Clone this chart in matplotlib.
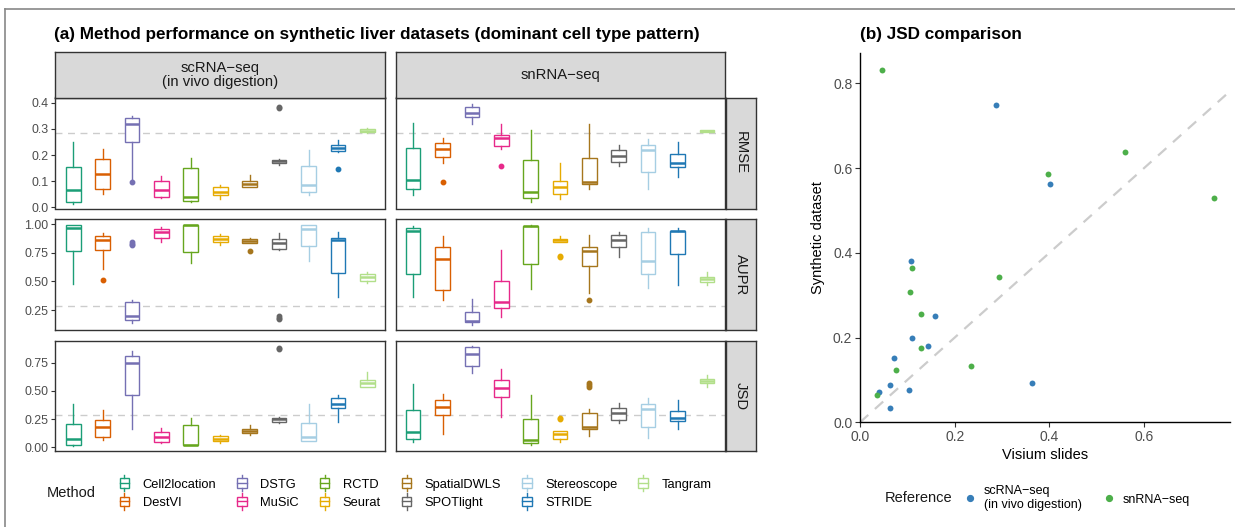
import matplotlib
matplotlib.use("Agg")
import matplotlib.pyplot as plt
from matplotlib.lines import Line2D
from matplotlib.patches import Patch, Rectangle
from matplotlib.legend_handler import HandlerBase

plt.rcParams['font.family'] = ['Liberation Sans', 'DejaVu Sans']

methods = ["Cell2location", "DestVI", "DSTG", "MuSiC", "RCTD", "Seurat",
           "SpatialDWLS", "SPOTlight", "Stereoscope", "STRIDE", "Tangram"]
method_colors = ["#1B9E77", "#D95F02", "#7570B3", "#E7298A", "#66A61E", "#E6AB02",
                 "#A6761D", "#666666", "#A6CEE3", "#1F78B4", "#B2DF8A"]
references = ["scRNA\u2212seq\n(in vivo digestion)", "snRNA\u2212seq"]
metrics = ["RMSE", "AUPR", "JSD"]

# five-number summaries per method: (low whisker, q1, median, q3, high whisker)
rmse_sc = [(0.014, 0.022, 0.066, 0.155, 0.250), (0.050, 0.069, 0.127, 0.186, 0.224),
           (0.110, 0.250, 0.320, 0.341, 0.349), (0.035, 0.041, 0.065, 0.102, 0.122),
           (0.022, 0.025, 0.041, 0.150, 0.190), (0.033, 0.046, 0.059, 0.078, 0.087),
           (0.080, 0.080, 0.088, 0.100, 0.125), (0.162, 0.168, 0.178, 0.183, 0.185),
           (0.046, 0.060, 0.084, 0.160, 0.220), (0.211, 0.214, 0.228, 0.237, 0.257),
           (0.284, 0.287, 0.293, 0.299, 0.303)]
rmse_sn = [(0.048, 0.069, 0.104, 0.227, 0.324), (0.168, 0.191, 0.225, 0.247, 0.266),
           (0.317, 0.344, 0.362, 0.383, 0.397), (0.224, 0.234, 0.264, 0.276, 0.320),
           (0.020, 0.036, 0.060, 0.183, 0.297), (0.033, 0.052, 0.080, 0.100, 0.169),
           (0.069, 0.089, 0.099, 0.190, 0.320), (0.158, 0.172, 0.196, 0.220, 0.238),
           (0.069, 0.135, 0.220, 0.237, 0.260), (0.116, 0.155, 0.169, 0.205, 0.251),
           (0.289, 0.290, 0.293, 0.296, 0.297)]
aupr_sc = [(0.474, 0.767, 0.962, 0.991, 0.994), (0.608, 0.770, 0.860, 0.892, 0.919),
           (0.140, 0.163, 0.198, 0.320, 0.337), (0.840, 0.875, 0.930, 0.959, 0.971),
           (0.663, 0.756, 0.988, 0.991, 0.994), (0.814, 0.840, 0.869, 0.898, 0.916),
           (0.837, 0.837, 0.852, 0.869, 0.875), (0.776, 0.785, 0.834, 0.869, 0.924),
           (0.680, 0.808, 0.959, 0.991, 0.994), (0.360, 0.573, 0.860, 0.878, 0.930),
           (0.483, 0.506, 0.538, 0.567, 0.584)]
aupr_sn = [(0.366, 0.567, 0.942, 0.965, 0.980), (0.337, 0.427, 0.695, 0.802, 0.895),
           (0.119, 0.142, 0.151, 0.235, 0.343), (0.186, 0.264, 0.317, 0.506, 0.773),
           (0.430, 0.648, 0.985, 0.985, 0.988), (0.843, 0.843, 0.858, 0.869, 0.895),
           (0.395, 0.634, 0.767, 0.802, 0.901), (0.712, 0.799, 0.860, 0.904, 0.930),
           (0.439, 0.564, 0.680, 0.930, 0.968), (0.465, 0.741, 0.936, 0.942, 0.965),
           (0.468, 0.491, 0.517, 0.538, 0.581)]
jsd_sc = [(0.009, 0.018, 0.074, 0.210, 0.381), (0.068, 0.089, 0.177, 0.242, 0.328),
          (0.165, 0.466, 0.747, 0.809, 0.853), (0.041, 0.050, 0.092, 0.133, 0.174),
          (0.018, 0.018, 0.024, 0.198, 0.260), (0.041, 0.059, 0.077, 0.100, 0.112),
          (0.106, 0.127, 0.148, 0.165, 0.200), (0.213, 0.224, 0.248, 0.263, 0.269),
          (0.056, 0.056, 0.089, 0.213, 0.384), (0.227, 0.351, 0.384, 0.437, 0.466),
          (0.531, 0.537, 0.567, 0.593, 0.664)]
jsd_sn = [(0.050, 0.077, 0.133, 0.328, 0.558), (0.121, 0.286, 0.360, 0.422, 0.469),
          (0.661, 0.720, 0.830, 0.886, 0.900), (0.266, 0.443, 0.528, 0.593, 0.694),
          (0.021, 0.035, 0.065, 0.248, 0.461), (0.047, 0.074, 0.115, 0.142, 0.142),
          (0.097, 0.165, 0.183, 0.304, 0.337), (0.213, 0.245, 0.307, 0.348, 0.396),
          (0.080, 0.180, 0.342, 0.384, 0.440), (0.165, 0.236, 0.260, 0.325, 0.419),
          (0.531, 0.570, 0.588, 0.605, 0.638)]

# outliers, keyed by method index
rmse_sc_out = {2: [0.098], 7: [0.378, 0.385], 9: [0.145]}
rmse_sn_out = {1: [0.098], 3: [0.159]}
aupr_sc_out = {1: [0.509], 2: [0.815, 0.828, 0.840], 6: [0.762], 7: [0.168, 0.180, 0.195]}
aupr_sn_out = {5: [0.715, 0.722], 6: [0.337]}
jsd_sc_out = {7: [0.868, 0.876]}
jsd_sn_out = {5: [0.255, 0.260], 6: [0.530, 0.548, 0.567]}

# panel (b): JSD on Visium slides vs synthetic data
sc_visium = [0.287, 0.402, 0.108, 0.158, 0.109, 0.143, 0.071, 0.364, 0.064, 0.103, 0.041, 0.064]
sc_synth = [0.749, 0.563, 0.381, 0.252, 0.200, 0.180, 0.152, 0.092, 0.089, 0.077, 0.071, 0.033]
sn_visium = [0.046, 0.398, 0.559, 0.748, 0.110, 0.106, 0.128, 0.294, 0.128, 0.076, 0.235, 0.035]
sn_synth = [0.832, 0.587, 0.639, 0.530, 0.363, 0.308, 0.256, 0.344, 0.176, 0.123, 0.133, 0.064]

W, H = 1235, 527
TICK_GREY = "#4D4D4D"
STRIP_FILL = "#D9D9D9"
DARK = "#333333"


def rect(x0, y0, x1, y1):
    return [x0 / W, 1 - y1 / H, (x1 - x0) / W, (y1 - y0) / H]


class BoxKey(HandlerBase):
    """Small boxplot glyph used as legend key."""

    def create_artists(self, legend, orig_handle, xdescent, ydescent,
                       width, height, fontsize, trans):
        c = orig_handle.get_edgecolor()
        cx = -xdescent + width / 2
        cy = -ydescent + height / 2
        bw, bh = width * 0.75, height * 0.8
        box = Rectangle((cx - bw / 2, cy - bh / 2), bw, bh, fc="white", ec=c,
                        lw=1.0, transform=trans)
        med = Line2D([cx - bw / 2, cx + bw / 2], [cy, cy], color=c, lw=1.0, transform=trans)
        w1 = Line2D([cx, cx], [cy + bh / 2, cy + bh / 2 + height * 0.25], color=c, lw=1.0,
                    transform=trans)
        w2 = Line2D([cx, cx], [cy - bh / 2, cy - bh / 2 - height * 0.25], color=c, lw=1.0,
                    transform=trans)
        return [box, med, w1, w2]


fig = plt.figure(figsize=(W / 100, H / 100), dpi=100)

# outer frame lines
fig.add_artist(Line2D([5 / W, 1], [1 - 9 / H, 1 - 9 / H], color="#888888", lw=1.2))
fig.add_artist(Line2D([5 / W, 5 / W], [0, 1 - 9 / H], color="#888888", lw=1.2))

# ---------- panel (a) ----------
fig.text(54 / W, 1 - 35 / H,
         "(a) Method performance on synthetic liver datasets (dominant cell type pattern)",
         fontsize=12.35, fontweight="bold", va="center", ha="left")

col_x = [(55.5, 385), (395.5, 724.5)]
row_y = [(97.5, 208.5), (219, 330), (341, 451)]
ylims = [(-0.004, 0.42), (0.076, 1.044), (-0.033, 0.942)]
yticks = [[0.0, 0.1, 0.2, 0.3, 0.4], [0.25, 0.50, 0.75, 1.00], [0.00, 0.25, 0.50, 0.75]]
ylabels = [["0.0", "0.1", "0.2", "0.3", "0.4"], ["0.25", "0.50", "0.75", "1.00"],
           ["0.00", "0.25", "0.50", "0.75"]]
panel_stats = [[rmse_sc, rmse_sn], [aupr_sc, aupr_sn], [jsd_sc, jsd_sn]]
panel_out = [[rmse_sc_out, rmse_sn_out], [aupr_sc_out, aupr_sn_out], [jsd_sc_out, jsd_sn_out]]

for r in range(3):
    for c in range(2):
        ax = fig.add_axes(rect(col_x[c][0], row_y[r][0], col_x[c][1], row_y[r][1]))
        stats = panel_stats[r][c]
        outs = panel_out[r][c]
        for i, s in enumerate(stats):
            col = method_colors[i]
            st = dict(whislo=s[0], q1=s[1], med=s[2], q3=s[3], whishi=s[4],
                      fliers=outs.get(i, []))
            ax.bxp([st], positions=[i + 1], widths=0.5, patch_artist=True,
                   showcaps=False,
                   boxprops=dict(facecolor="white", edgecolor=col, lw=1.0),
                   medianprops=dict(color=col, lw=1.8),
                   whiskerprops=dict(color=col, lw=1.0),
                   flierprops=dict(marker="o", markerfacecolor=col, markeredgecolor=col,
                                   markersize=3.2, linestyle="none"))
        ax.axhline(0.283, color="#CCCCCC", lw=1.0, ls=(0, (5, 4)), zorder=0)
        ax.set_xlim(0.4, 11.6)
        ax.set_ylim(*ylims[r])
        ax.set_xticks([])
        for sp in ax.spines.values():
            sp.set_color(DARK)
            sp.set_linewidth(1.0)
        if c == 0:
            ax.set_yticks(yticks[r])
            ax.set_yticklabels(ylabels[r])
            ax.tick_params(axis="y", length=3, width=0.8, color=DARK,
                           labelcolor=TICK_GREY, labelsize=8.9, pad=2)
        else:
            ax.set_yticks([])

# column strips
for c in range(2):
    sax = fig.add_axes(rect(col_x[c][0], 52, col_x[c][1], 97.5))
    sax.set_facecolor(STRIP_FILL)
    sax.set_xticks([])
    sax.set_yticks([])
    for sp in sax.spines.values():
        sp.set_color(DARK)
        sp.set_linewidth(1.0)
    sax.text(0.5, 0.5, references[c], ha="center", va="center", fontsize=10.7,
             color="#1A1A1A", transform=sax.transAxes, linespacing=1.0)

# row strips
for r in range(3):
    sax = fig.add_axes(rect(726, row_y[r][0], 756, row_y[r][1]))
    sax.set_facecolor(STRIP_FILL)
    sax.set_xticks([])
    sax.set_yticks([])
    for sp in sax.spines.values():
        sp.set_color(DARK)
        sp.set_linewidth(1.0)
    sax.text(0.5, 0.5, metrics[r], ha="center", va="center", fontsize=10.7,
             color="#1A1A1A", rotation=270, transform=sax.transAxes)

# method legend
fig.text(47 / W, 1 - 493 / H, "Method", fontsize=10.5, va="center", ha="left", color="#1A1A1A")
handles = [Patch(edgecolor=col, facecolor="white") for col in method_colors]
fig.legend(handles, methods, handler_map={Patch: BoxKey()}, ncol=6,
           loc="center left", bbox_to_anchor=(118 / W, 1 - 493 / H), frameon=False,
           fontsize=9.3, handlelength=1.0, handleheight=1.1, handletextpad=0.9,
           columnspacing=1.5, labelspacing=0.35, borderpad=0, borderaxespad=0)

# ---------- panel (b) ----------
bx = fig.add_axes(rect(860, 53.2, 1230.3, 422.3))
bx.scatter(sc_visium, sc_synth, s=18, color="#377EB8", zorder=3, linewidths=0)
bx.scatter(sn_visium, sn_synth, s=18, color="#4DAF4A", zorder=3, linewidths=0)
bx.axline((0, 0), slope=1, color="#CCCCCC", lw=1.6, ls=(0, (5, 4)), zorder=1)
bx.set_xlim(0, 0.782)
bx.set_ylim(0, 0.871)
bx.set_xticks([0.0, 0.2, 0.4, 0.6])
bx.set_xticklabels(["0.0", "0.2", "0.4", "0.6"])
bx.set_yticks([0.0, 0.2, 0.4, 0.6, 0.8])
bx.set_yticklabels(["0.0", "0.2", "0.4", "0.6", "0.8"])
bx.spines["top"].set_visible(False)
bx.spines["right"].set_visible(False)
bx.spines["left"].set_linewidth(1.0)
bx.spines["bottom"].set_linewidth(1.0)
bx.tick_params(length=3.5, width=0.8, color=DARK, labelcolor=TICK_GREY, labelsize=10, pad=2)
bx.set_xlabel("Visium slides", fontsize=10.5, labelpad=3)
bx.set_ylabel("Synthetic dataset", fontsize=10.5, labelpad=6)
fig.text(860 / W, 1 - 35 / H, "(b) JSD comparison", fontsize=12.35, fontweight="bold",
         va="center", ha="left")

fig.text(885 / W, 1 - 498 / H, "Reference", fontsize=10.5, va="center", ha="left",
         color="#1A1A1A")
ref_handles = [Line2D([], [], marker="o", ls="none", color="#377EB8", markersize=4.2),
               Line2D([], [], marker="o", ls="none", color="#4DAF4A", markersize=4.2)]
fig.legend(ref_handles, references, ncol=2, loc="center left",
           bbox_to_anchor=(964 / W, 1 - 498 / H), frameon=False, fontsize=9,
           handlelength=1.0, handletextpad=0.6, columnspacing=1.7, borderpad=0,
           borderaxespad=0)

fig.savefig("out.png", dpi=100)
